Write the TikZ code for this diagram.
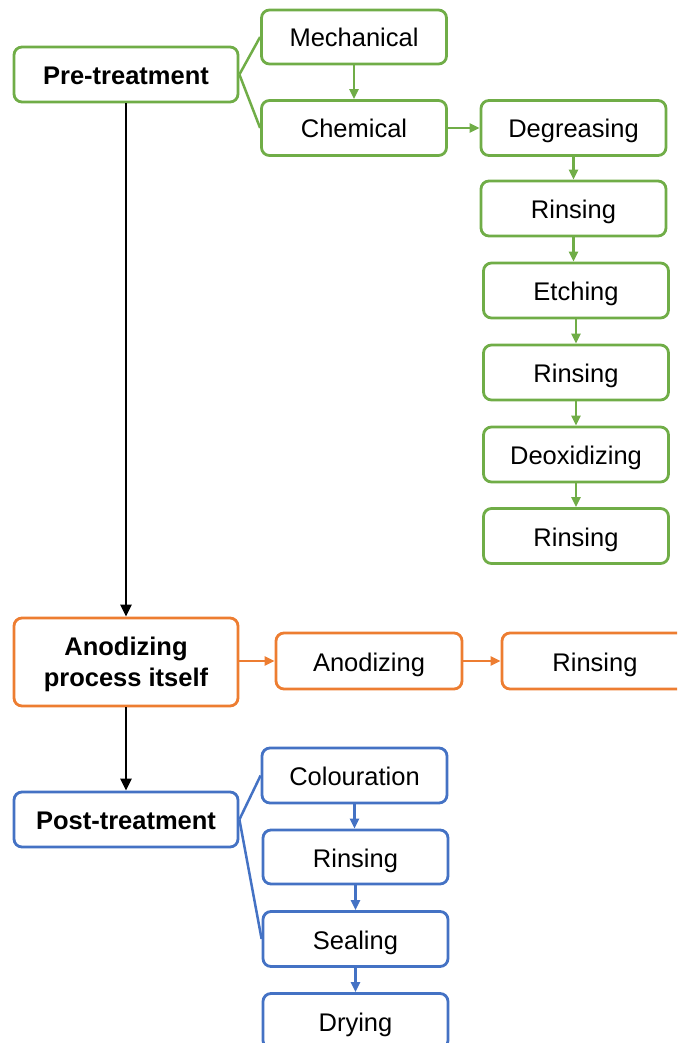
\documentclass[tikz,border=0pt]{standalone}
\usepackage{fontspec}
\setmainfont{Liberation Sans}
\usetikzlibrary{arrows.meta}
\definecolor{gr}{HTML}{70AD47}
\definecolor{og}{HTML}{ED7D31}
\definecolor{bl}{HTML}{4472C4}
\begin{document}
\begin{tikzpicture}[x=1pt,y=-1pt,
  box/.style={draw=#1, line width=2.8pt, rounded corners=8pt, fill=white, inner sep=0pt,
    font=\fontsize{25.5}{31}\selectfont, align=center, text height=22pt, text depth=2pt},
  bw/.style={minimum width=224pt},
  sw/.style={minimum width=185pt},
  hh/.style={minimum height=55pt},
  main/.style={font=\fontsize{25.5}{31}\selectfont\bfseries},
  link/.style={draw=#1, line width=2.5pt},
  arr/.style={draw=#1, line width=2.5pt, -{Triangle[length=10pt,width=9pt]}},
  flow/.style={draw=black, line width=2.8pt, -{Triangle[length=12pt,width=11pt]}}]
\useasboundingbox (0,0) rectangle (677,1043);
\clip (0,0) rectangle (677,1043);
% green
\node[box=gr,bw,hh,main] (pre) at (126,74.5) {Pre-treatment};
\node[box=gr,sw,minimum height=54pt] (mech) at (354,37) {Mechanical};
\node[box=gr,sw,hh] (chem) at (354,128) {Chemical};
\node[box=gr,sw,hh] (deg) at (573.5,128) {Degreasing};
\node[box=gr,sw,hh] (r1) at (573.5,208.5) {Rinsing};
\node[box=gr,sw,hh] (etch) at (576,290.5) {Etching};
\node[box=gr,sw,hh] (r2) at (576,372.5) {Rinsing};
\node[box=gr,sw,hh] (deox) at (576,454.5) {Deoxidizing};
\node[box=gr,sw,hh] (r3) at (576,536) {Rinsing};
\draw[link=gr] (pre.east) -- (mech.west);
\draw[link=gr] (pre.east) -- (chem.west);
\draw[arr=gr] (mech.south) -- (chem.north);
\draw[arr=gr] (chem.east) -- (deg.west);
\draw[arr=gr] (deg.south) -- (r1.north);
\draw[arr=gr] (r1.south) -- (r1.south |- etch.north);
\draw[arr=gr] (etch.south) -- (r2.north);
\draw[arr=gr] (r2.south) -- (deox.north);
\draw[arr=gr] (deox.south) -- (r3.north);
% orange
\node[box=og,bw,minimum height=88pt,main,text height=50pt,text depth=2pt] (ano) at (126,662) {Anodizing\\process itself};
\node[box=og,minimum width=186pt,minimum height=56pt] (anod) at (369,661) {Anodizing};
\node[box=og,minimum width=186pt,minimum height=56pt] (rino) at (595,661) {Rinsing};
\draw[arr=og] (ano.east |- anod.west) -- (anod.west);
\draw[arr=og] (anod.east) -- (rino.west);
% blue
\node[box=bl,bw,hh,main] (post) at (126,819.5) {Post-treatment};
\node[box=bl,sw,hh] (col) at (354.5,775.5) {Colouration};
\node[box=bl,sw,minimum height=54pt] (rinb) at (355.5,857) {Rinsing};
\node[box=bl,sw,hh] (seal) at (355.5,939) {Sealing};
\node[box=bl,sw,hh] (dry) at (355.5,1021) {Drying};
\draw[link=bl] (post.east) -- (col.west);
\draw[link=bl] (post.east) -- (seal.west);
\draw[arr=bl] (col.south) -- (col.south |- rinb.north);
\draw[arr=bl] (rinb.south) -- (seal.north);
\draw[arr=bl] (seal.south) -- (dry.north);
% main flow
\draw[flow] (pre.south) -- (ano.north);
\draw[flow] (ano.south) -- (post.north);
\end{tikzpicture}
\end{document}
